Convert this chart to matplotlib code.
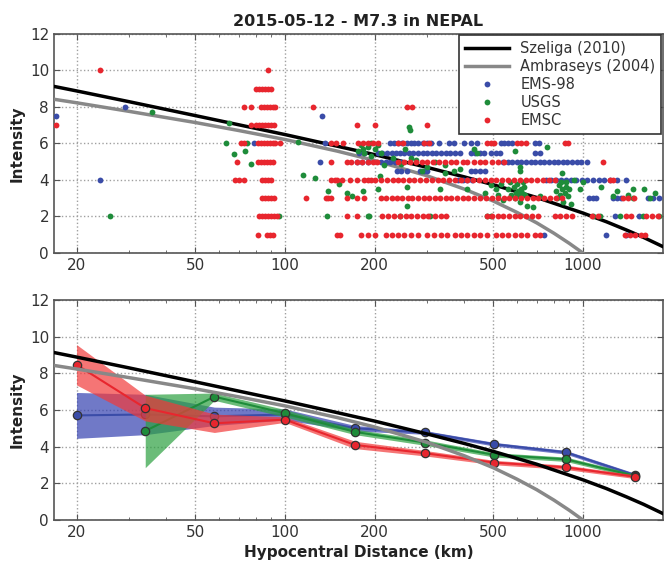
import matplotlib
matplotlib.use("Agg")
import matplotlib.pyplot as plt
from matplotlib.ticker import FixedLocator, FixedFormatter, NullFormatter
import numpy as np

# ---------------- data ----------------
title = "2015-05-12 - M7.3 in NEPAL"
xticks = [20, 50, 100, 200, 500, 1000]
xticklabels = ["20", "50", "100", "200", "500", "1000"]
yticks = [0, 2, 4, 6, 8, 10, 12]

# attenuation curves
szeliga_r = [17, 20, 30, 50, 100, 150, 200, 300, 400, 500, 700, 1000, 1200, 1400, 1600, 1850]
szeliga_i = [9.11, 8.88, 8.29, 7.53, 6.49, 5.85, 5.39, 4.69, 4.17, 3.74, 3.04, 2.19, 1.71, 1.26, 0.85, 0.36]
ambraseys_r = [17, 20, 30, 50, 70, 100, 150, 200, 300, 400, 500, 600, 700, 800, 900, 1000]
ambraseys_i = [8.41, 8.23, 7.76, 7.15, 6.71, 6.22, 5.58, 5.07, 4.23, 3.50, 2.85, 2.23, 1.65, 1.08, 0.53, 0.0]

# EMSC observations: distance lists per intensity level
emsc_levels = {
    10: [24, 88],
    9: [80, 82, 84, 86, 88, 90],
    8: [73, 77, 83, 85, 87, 89, 91, 93, 124, 256, 268],
    7: [17, 77, 80, 82, 84, 86, 88, 90, 92, 175, 200, 300],
    6: [71, 73, 81, 83, 85, 87, 89, 91, 93, 96, 143, 148, 157, 176, 183, 190,
        198, 205, 240, 250, 292, 305, 478, 490, 505, 600, 620, 645, 870, 890],
    5: [69, 81, 83, 85, 87, 89, 91, 143, 161, 167, 175, 182, 190, 197, 204,
        240, 252, 262, 275, 288, 300, 315, 330, 345, 360, 375, 395, 410, 430,
        450, 470, 495, 520, 545, 1165],
    4: [68, 70, 73, 84, 86, 88, 90, 143, 147, 150, 155, 165, 175, 185, 190,
        195, 200, 210, 220, 230, 240, 250, 260, 272, 285, 298, 312, 326, 340,
        355, 372, 390, 408, 427, 447, 468, 490, 512, 536, 560, 586, 614, 642,
        672, 703, 736, 770, 806, 1230, 1260],
    3: [84, 86, 88, 90, 92, 118, 137, 140, 143, 161, 175, 185, 210, 218, 228,
        238, 248, 258, 268, 280, 292, 305, 318, 332, 347, 362, 378, 395, 413,
        432, 452, 473, 495, 518, 542, 567, 593, 620, 648, 678, 709, 742, 776,
        812, 850, 1360, 1420, 1480],
    2: [82, 84, 86, 88, 90, 92, 94, 161, 175, 212, 222, 232, 243, 254, 265,
        277, 290, 303, 318, 333, 348, 475, 495, 517, 540, 565, 590, 617, 645,
        675, 706, 805, 840, 880, 920, 1070, 1120, 1390, 1450, 1630, 1700, 1780],
    1: [81, 87, 89, 91, 150, 153, 180, 190, 200, 218, 228, 240, 252, 265, 280,
        300, 316, 335, 350, 372, 390, 410, 432, 452, 475, 510, 535, 560, 590,
        620, 650, 690, 716, 1380, 1440, 1500, 1570, 1620],
}

# EMS-98 observations
ems_levels = {
    8: [29],
    7.5: [17, 133],
    6: [79, 136, 225, 232, 240, 248, 256, 264, 272, 280, 290, 300, 310, 330,
        355, 370, 400, 420, 440, 530, 545, 560, 580, 690, 710],
    5.5: [178, 185, 205, 212, 220, 228, 236, 244, 252, 261, 270, 280, 290, 300,
          311, 322, 334, 346, 358, 372, 386, 420, 435, 450, 466, 490, 510, 526,
          690, 716],
    5: [131, 175, 182, 190, 210, 218, 226, 234, 243, 540, 560, 580, 600, 622,
        645, 668, 692, 717, 743, 770, 798, 826, 856, 887, 919, 952, 985, 1030],
    4.5: [237, 246, 256, 284, 292, 300, 420, 436, 452, 468],
    4: [24, 380, 395, 410, 425, 750, 780, 810, 845, 880, 915, 950, 990, 1030,
        1080, 1130, 1180, 1230, 1300, 1400],
    3: [1050, 1080, 1110, 1260, 1300, 1340, 1650, 1720, 1800],
    2: [1280, 1540],
    1: [740, 1200, 1400],
}

# USGS observations (distance km, intensity)
usgs_r = [35.7, 25.9, 65, 63.7, 67.6, 73.4, 74.7, 76.7, 95.7, 110.8, 114.6, 126,
          140, 138, 152, 162, 168, 183, 190, 176, 180, 185, 190, 195, 200, 205,
          210, 183, 191, 195, 206, 208, 243, 253, 256, 256, 260, 263, 266, 288,
          307, 331, 344, 369, 386, 410, 431, 440, 475, 493, 510, 215, 230, 245,
          275, 300, 320, 345, 470, 490, 520, 530, 540,
          560, 575, 585, 590, 600, 605, 610, 615, 620, 625, 630, 640, 650, 595,
          570, 635, 590, 614, 614, 680, 716, 760,
          810, 820, 830, 840, 850, 860, 870, 880, 890, 900, 910, 845, 875, 850,
          930, 975, 1000, 1080, 1138, 1150, 1260, 1300, 1327, 1420, 1470, 1470,
          1590, 1600, 1673, 1750, 1800]
usgs_i = [7.7, 2.0, 7.1, 6.0, 5.4, 5.6, 6.0, 4.9, 2.0, 6.1, 4.3, 4.1,
          3.4, 2.0, 3.8, 3.3, 3.1, 3.4, 2.0, 5.6, 5.9, 5.5, 5.8, 5.3, 5.7, 5.9,
          5.5, 5.7, 2.0, 6.0, 3.5, 4.2, 2.0, 5.7, 3.6, 2.6, 6.9, 6.75, 5.2, 4.5,
          2.0, 3.5, 4.4, 4.5, 4.6, 3.5, 5.7, 5.5, 2.0, 2.0, 3.5, 4.8, 5.2, 4.9,
          5.1, 4.7, 5.0, 4.8, 3.3, 3.7, 3.2, 3.8, 2.9,
          3.5, 3.2, 3.6, 3.0, 3.8, 3.4, 3.1, 2.8, 3.5, 3.3, 3.9, 3.2, 2.6, 3.3,
          3.9, 3.6, 5.6, 4.7, 4.5, 2.5, 3.1, 5.8,
          3.4, 3.0, 3.7, 3.2, 3.5, 2.8, 3.3, 3.9, 3.1, 3.5, 2.7, 3.9, 3.6, 4.4,
          4.0, 3.5, 3.9, 2.0, 2.0, 3.6, 3.1, 3.4, 2.0, 3.2, 3.5, 3.0,
          2.0, 3.5, 3.0, 3.3, 2.0]

# binned means and spread (bottom panel)
bin_r = [20, 34, 58, 100, 172, 295, 504, 877, 1493]
ems_mean = [5.7, 5.75, 5.65, 5.75, 5.0, 4.77, 4.13, 3.69, 2.45]
ems_sd = [1.25, 1.1, 0.5, 0.3, 0.15, 0.1, 0.1, 0.1, 0.1]
usgs_bin_r = [34, 58, 100, 172, 295, 504, 877, 1493]
usgs_mean = [4.85, 6.72, 5.82, 4.8, 4.22, 3.55, 3.31, 2.40]
usgs_sd = [2.0, 0.2, 0.2, 0.15, 0.15, 0.12, 0.12, 0.1]
emsc_mean = [8.46, 6.1, 5.27, 5.47, 4.09, 3.64, 3.13, 2.87, 2.36]
emsc_sd = [1.1, 0.7, 0.5, 0.15, 0.2, 0.15, 0.12, 0.12, 0.1]

c_blue = "#3a4ca8"
c_green = "#1e8c3a"
c_red = "#e8262e"
f_blue = "#3340b0"
f_green = "#2ca040"
f_red = "#f23a3a"

# ---------------- figure ----------------
plt.rcParams['font.family'] = ['DejaVu Sans']
fig = plt.figure(figsize=(6.64, 5.66), dpi=100)
ax1 = fig.add_axes([0.0813, 0.553, 0.917, 0.387])
ax2 = fig.add_axes([0.0813, 0.0813, 0.917, 0.389])

def style(ax):
    ax.set_xscale('log')
    ax.set_xlim(16.8, 1855)
    ax.set_ylim(0, 12)
    ax.xaxis.set_major_locator(FixedLocator(xticks))
    ax.xaxis.set_major_formatter(FixedFormatter(xticklabels))
    minors = [m for dec in (10, 100, 1000) for m in [dec * k for k in range(2, 10)]
              if m not in xticks]
    ax.xaxis.set_minor_locator(FixedLocator(minors))
    ax.xaxis.set_minor_formatter(NullFormatter())
    ax.set_yticks(yticks)
    ax.grid(True, which='major', linestyle=':', color='#a0a0a0', linewidth=1.0)
    ax.tick_params(which='both', direction='in', top=True, right=True,
                   colors='#555555', labelcolor='#333333', labelsize=11)
    ax.tick_params(which='major', length=4)
    ax.tick_params(which='minor', length=2)
    for s in ax.spines.values():
        s.set_color('#555555')
        s.set_linewidth(1.2)
    ax.set_ylabel("Intensity", fontsize=11, fontweight='bold', color='#222222')

style(ax1)
style(ax2)

# top panel
ax1.plot(szeliga_r, szeliga_i, color='black', lw=2.5, label='Szeliga (2010)', zorder=3)
ax1.plot(ambraseys_r, ambraseys_i, color='#888888', lw=2.5, label='Ambraseys (2004)', zorder=3)

ems_x = [r for lev, rs in ems_levels.items() for r in rs]
ems_y = [lev for lev, rs in ems_levels.items() for r in rs]
emsc_x = [r for lev, rs in emsc_levels.items() for r in rs]
emsc_y = [lev for lev, rs in emsc_levels.items() for r in rs]

ax1.plot(ems_x, ems_y, 'o', color=c_blue, ms=4.2, mew=0, label='EMS-98', zorder=4)
ax1.plot(usgs_r, usgs_i, 'o', color=c_green, ms=4.2, mew=0, label='USGS', zorder=4)
ax1.plot(emsc_x, emsc_y, 'o', color=c_red, ms=4.2, mew=0, label='EMSC', zorder=4)

leg = ax1.legend(loc='upper right', fontsize=10.5, fancybox=False, framealpha=1,
                 edgecolor='#333333', handlelength=3.0, borderaxespad=0.1,
                 labelspacing=0.2, borderpad=0.4, handletextpad=0.8)
leg.get_frame().set_linewidth(1.2)
for t in leg.get_texts():
    t.set_color('#333333')
ax1.set_title(title, fontsize=11.5, fontweight='bold', color='#222222', pad=6)

# bottom panel
ax2.plot(szeliga_r, szeliga_i, color='black', lw=2.5, zorder=10)
ax2.plot(ambraseys_r, ambraseys_i, color='#888888', lw=2.5, zorder=10)

def band(ax, r, m, sd, fc, lc, z):
    lo = [a - b for a, b in zip(m, sd)]
    hi = [a + b for a, b in zip(m, sd)]
    ax.fill_between(r, lo, hi, color=fc, alpha=0.7, lw=0, zorder=z)
    ax.plot(r, m, '-', color=lc, lw=1.5, zorder=z + 1)
    ax.plot(r, m, 'o', color=lc, ms=6, mec='#333333', mew=0.9, zorder=z + 1)

band(ax2, bin_r, ems_mean, ems_sd, f_blue, c_blue, 2)
band(ax2, usgs_bin_r, usgs_mean, usgs_sd, f_green, c_green, 4)
band(ax2, bin_r, emsc_mean, emsc_sd, f_red, c_red, 6)

ax2.set_xlabel("Hypocentral Distance (km)", fontsize=11, fontweight='bold', color='#222222')

fig.savefig("out.png", dpi=100)
